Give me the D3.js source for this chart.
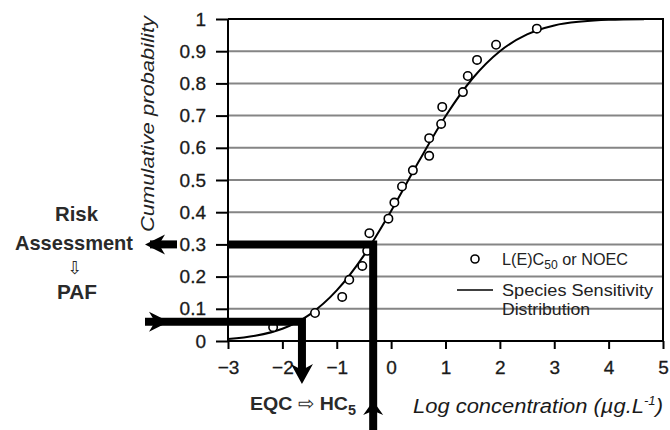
<!DOCTYPE html>
<html>
<head>
<meta charset="utf-8">
<script src="https://cdn.jsdelivr.net/npm/d3@7"></script>
<style>
  body { margin: 0; background: #fff; }
  svg { display: block; }
</style>
</head>
<body>
<svg id="chart" width="670" height="430"></svg>
<script>
// Toxicity end-points (log µg/L) and their cumulative plotting positions
const logConc = [-2.17, -1.40, -0.90, -0.77, -0.53, -0.44, -0.40, -0.05, 0.06, 0.20,
                 0.40, 0.70, 0.70, 0.92, 0.94, 1.32, 1.41, 1.58, 1.93, 2.68];
const cumProb = [0.043, 0.087, 0.137, 0.19, 0.233, 0.28, 0.335, 0.38, 0.43, 0.48,
                 0.53, 0.575, 0.63, 0.674, 0.727, 0.773, 0.823, 0.873, 0.92, 0.97];

// Fitted species sensitivity distribution
const ssdX = [-3, -2.5, -2, -1.5, -1, -0.5, 0, 0.5, 1, 1.5, 2, 2.5, 3, 3.5, 4, 4.65];
const ssdP = [0.006, 0.016, 0.038, 0.082, 0.157, 0.266, 0.404, 0.555, 0.698, 0.816,
              0.900, 0.952, 0.980, 0.992, 0.9975, 0.9995];

const xTicks = [-3, -2, -1, 0, 1, 2, 3, 4, 5];
const yTicks = [0, 0.1, 0.2, 0.3, 0.4, 0.5, 0.6, 0.7, 0.8, 0.9, 1];

// Read-outs: HC5 -> EQC, and exposure -> PAF
const hc5 = -1.64, hc5Level = 0.06;
const exposure = -0.33, pafLevel = 0.3;

const FONT = "'Liberation Sans', Arial, sans-serif";

const svg = d3.select("#chart");
svg.append("rect").attr("width", 670).attr("height", 430).attr("fill", "#fff");

const x = d3.scaleLinear().domain([-3, 5]).range([228, 663]);
const y = d3.scaleLinear().domain([0, 1]).range([341, 19]);

// horizontal grid
svg.append("g").selectAll("line").data(yTicks.filter(d => d > 0 && d < 1)).join("line")
  .attr("x1", x(-3)).attr("x2", x(5))
  .attr("y1", d => y(d)).attr("y2", d => y(d))
  .attr("stroke", "#858585").attr("stroke-width", 2);

// frame top / right
svg.append("path")
  .attr("d", `M${x(-3)},${y(1)}H${x(5)}V${y(0)}`)
  .attr("fill", "none").attr("stroke", "#000").attr("stroke-width", 2);

// axes
const yAxis = d3.axisLeft(y).tickValues(yTicks).tickSize(12).tickPadding(10)
  .tickFormat(d => d === 0 ? "0" : d === 1 ? "1" : d3.format(".1f")(d));
const gy = svg.append("g").attr("transform", `translate(${x(-3)},0)`).call(yAxis);

const xAxis = d3.axisBottom(x).tickValues(xTicks).tickSize(8).tickPadding(12)
  .tickFormat(d3.format("d"));
const gx = svg.append("g").attr("transform", `translate(0,${y(0)})`).call(xAxis);

[gx, gy].forEach(g => {
  g.select(".domain").attr("stroke", "#000").attr("stroke-width", 2);
  g.selectAll(".tick line").attr("stroke", "#000").attr("stroke-width", 2);
  g.selectAll(".tick text").attr("font-family", FONT).attr("font-size", 19)
    .attr("fill", "#1a1a1a").attr("stroke", "#1a1a1a").attr("stroke-width", 0.3);
});
gx.select(".domain").attr("d", `M${x(-3)},0H${x(5)}`);
gy.select(".domain").attr("d", `M0,${y(0)}V${y(1)}`);

// SSD curve
const line = d3.line().x(d => x(d[0])).y(d => y(d[1])).curve(d3.curveMonotoneX);
svg.append("path")
  .datum(d3.zip(ssdX, ssdP))
  .attr("d", line)
  .attr("fill", "none").attr("stroke", "#000").attr("stroke-width", 2);

// data points
svg.append("g").selectAll("circle").data(d3.zip(logConc, cumProb)).join("circle")
  .attr("cx", d => x(d[0])).attr("cy", d => y(d[1])).attr("r", 4.2)
  .attr("fill", "#fff").attr("stroke", "#000").attr("stroke-width", 1.6);

// thick read-out arrows
const arrows = svg.append("g").attr("fill", "#000");
const thick = 8;
function bar(d) {
  arrows.append("path").attr("d", d)
    .attr("fill", "none").attr("stroke", "#000").attr("stroke-width", thick)
    .attr("stroke-linejoin", "miter");
}
// exposure -> PAF (interrupted by the 0.3 tick label)
bar(`M${x(-3)},${y(pafLevel)}H${x(exposure)}V432`);
bar(`M150,${y(pafLevel)}H177`);
// HC5 -> EQC
bar(`M145,${y(hc5Level)}H${x(hc5)}V372`);

function head(cx, cy, angle, len = 20, half = 10) {
  // barbed arrow head pointing along +x before rotation
  arrows.append("path")
    .attr("d", `M0,0L${-len},${-half}L${-len * 0.7},0L${-len},${half}Z`)
    .attr("transform", `translate(${cx},${cy}) rotate(${angle})`);
}
head(145, y(pafLevel), 180);
head(x(exposure), 401, -90, 14, 10);
head(169, y(hc5Level), 0);
head(x(hc5), 384, 90, 20, 11);

// axis titles
svg.append("text")
  .attr("transform", `translate(154,124) rotate(-90)`)
  .attr("text-anchor", "middle")
  .attr("font-family", FONT).attr("font-style", "italic").attr("font-size", 19)
  .attr("fill", "#222")
  .attr("textLength", 216).attr("lengthAdjust", "spacingAndGlyphs")
  .text("Cumulative probability");

const xt = svg.append("text")
  .attr("x", 413).attr("y", 413)
  .attr("font-family", FONT).attr("font-style", "italic").attr("font-size", 20)
  .attr("fill", "#1a1a1a")
  .attr("textLength", 250).attr("lengthAdjust", "spacingAndGlyphs");
xt.append("tspan").text("Log concentration (µg.L");
xt.append("tspan").attr("dy", -8).attr("font-size", 12).text("-1");
xt.append("tspan").attr("dy", 8).text(")");

// left annotation
const left = svg.append("g").attr("font-family", FONT).attr("font-weight", "bold")
  .attr("font-size", 21).attr("fill", "#2a2a2a").attr("text-anchor", "middle");
left.append("text").attr("x", 76.5).attr("y", 221)
  .attr("textLength", 43).attr("lengthAdjust", "spacingAndGlyphs").text("Risk");
left.append("text").attr("x", 74).attr("y", 250)
  .attr("textLength", 118).attr("lengthAdjust", "spacingAndGlyphs").text("Assessment");
left.append("text").attr("x", 75).attr("y", 274)
  .attr("font-family", "'DejaVu Sans', sans-serif")
  .attr("font-size", 18).attr("font-weight", "normal").text("⇩");
left.append("text").attr("x", 77).attr("y", 299)
  .attr("textLength", 40).attr("lengthAdjust", "spacingAndGlyphs").text("PAF");

// EQC / HC5 label
const eq = svg.append("text").attr("x", 250).attr("y", 410)
  .attr("font-family", FONT).attr("font-weight", "bold").attr("font-size", 19).attr("fill", "#2a2a2a")
  .attr("textLength", 106).attr("lengthAdjust", "spacingAndGlyphs");
eq.append("tspan").text("EQC ");
eq.append("tspan").attr("font-weight", "normal").text("⇨");
eq.append("tspan").text(" HC");
eq.append("tspan").attr("dy", 5).attr("font-size", 14).text("5");

// legend
const lg = svg.append("g").attr("font-family", FONT).attr("font-size", 16).attr("fill", "#222");
lg.append("circle").attr("cx", 475).attr("cy", 259).attr("r", 4)
  .attr("fill", "#fff").attr("stroke", "#000").attr("stroke-width", 1.6);
const l1 = lg.append("text").attr("x", 502).attr("y", 265)
  .attr("textLength", 126).attr("lengthAdjust", "spacingAndGlyphs");
l1.append("tspan").text("L(E)C");
l1.append("tspan").attr("dy", 4).attr("font-size", 12).text("50");
l1.append("tspan").attr("dy", -4).text(" or NOEC");
lg.append("line").attr("x1", 457).attr("x2", 493).attr("y1", 290).attr("y2", 290)
  .attr("stroke", "#000").attr("stroke-width", 1.6);
lg.append("text").attr("x", 502).attr("y", 296)
  .attr("textLength", 151).attr("lengthAdjust", "spacingAndGlyphs").text("Species Sensitivity");
lg.append("text").attr("x", 502).attr("y", 315)
  .attr("textLength", 88).attr("lengthAdjust", "spacingAndGlyphs").text("Distribution");
</script>
</body>
</html>
